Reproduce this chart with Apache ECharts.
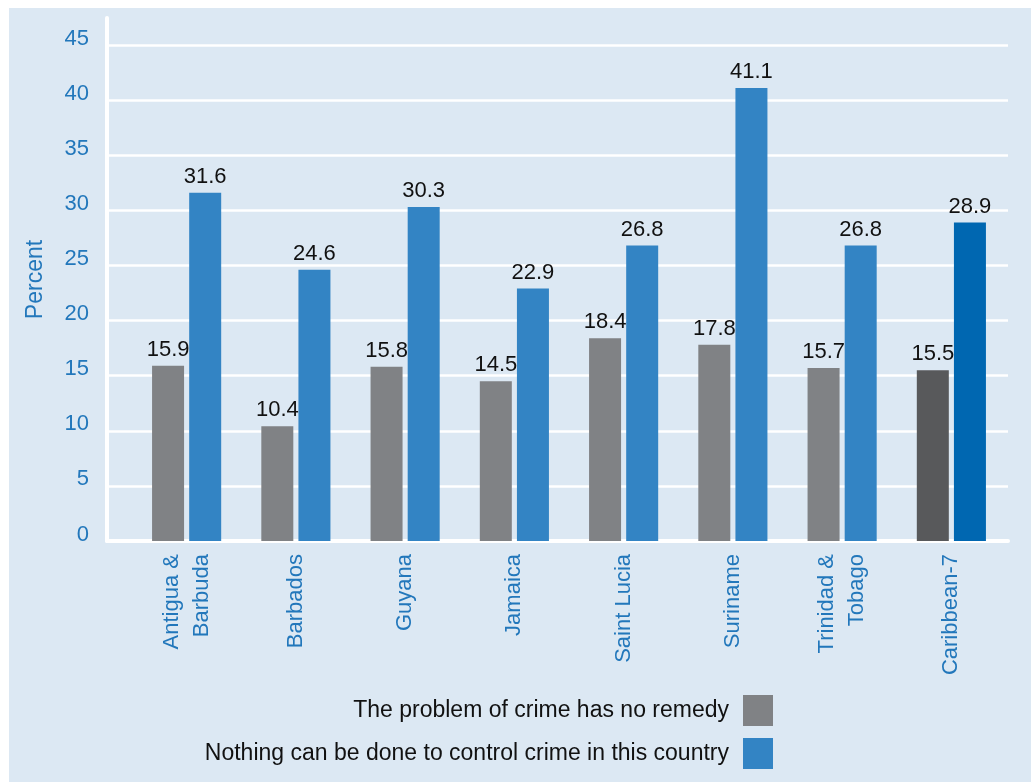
<!DOCTYPE html>
<html>
<head>
<meta charset="utf-8">
<script src="https://cdn.jsdelivr.net/npm/echarts@6/dist/echarts.min.js"></script>
<style>
  html, body { margin: 0; padding: 0; background: #fff; }
  #chart { width: 1031px; height: 782px; }
</style>
</head>
<body>
<div id="chart"></div>
<script>
// categories and values
const categories = ['Antigua &\nBarbuda', 'Barbados', 'Guyana', 'Jamaica', 'Saint Lucia', 'Suriname', 'Trinidad &\nTobago', 'Caribbean-7'];
const noRemedy = [15.9, 10.4, 15.8, 14.5, 18.4, 17.8, 15.7, 15.5];
const nothingDone = [31.6, 24.6, 30.3, 22.9, 26.8, 41.1, 26.8, 28.9];
const seriesNames = ['The problem of crime has no remedy', 'Nothing can be done to control crime in this country'];

const blueText = '#2277bb';
const greyBar = '#808285', blueBar = '#3384c4';
const greyDark = '#58595b', blueDark = '#0067b1';
const font = "'Liberation Sans', Arial, sans-serif";

// last category (Caribbean-7) gets darker colours
function withHighlight(values, dark) {
  return values.map(function (v, i) {
    if (i === values.length - 1) return { value: v, itemStyle: { color: dark } };
    return v;
  });
}

const chart = echarts.init(document.getElementById('chart'));

const option = {
  backgroundColor: '#fff',
  textStyle: { fontFamily: font },
  graphic: [{
    type: 'rect', z: -10, silent: true,
    shape: { x: 9, y: 8, width: 1022, height: 774 },
    style: { fill: '#dce8f3' }
  }],
  grid: [
    // background grid: white lines and y labels
    { left: 107, right: 23, top: 18, bottom: 241 },
    // bar grid
    { left: 132, right: 25, top: 18, bottom: 241 }
  ],
  xAxis: [
    {
      gridIndex: 0, type: 'value', min: 0, max: 1,
      axisLine: { show: true, lineStyle: { color: '#fff', width: 4 } },
      axisTick: { show: false }, axisLabel: { show: false }, splitLine: { show: false }
    },
    {
      gridIndex: 1, type: 'category', data: categories,
      axisLine: { show: false }, axisTick: { show: false },
      axisLabel: {
        rotate: 90, color: blueText, fontSize: 22, lineHeight: 30, margin: 13,
        fontFamily: font
      }
    }
  ],
  yAxis: [
    {
      gridIndex: 0, type: 'value', min: 0, max: 47.45, interval: 5,
      name: 'Percent', nameLocation: 'middle', nameGap: 60,
      nameTextStyle: { color: blueText, fontSize: 23, fontFamily: font },
      axisLine: { show: true, lineStyle: { color: '#fff', width: 4 } },
      axisTick: { show: false },
      splitLine: { show: true, showMaxLine: false, lineStyle: { color: '#fff', width: 2.5 } },
      axisLabel: {
        color: blueText, fontSize: 22, margin: 18, showMaxLabel: false,
        verticalAlign: 'bottom', lineHeight: 13, fontFamily: font
      }
    },
    { gridIndex: 1, type: 'value', min: 0, max: 47.45, show: false }
  ],
  legend: {
    data: seriesNames,
    orient: 'vertical', align: 'right',
    right: 253, top: 690,
    itemWidth: 30, itemHeight: 31, itemGap: 12,
    icon: 'rect',
    textStyle: { color: '#111', fontSize: 23, fontFamily: font, padding: [0, 9, 0, 0] }
  },
  series: [
    {
      name: seriesNames[0], type: 'bar', xAxisIndex: 1, yAxisIndex: 1,
      barWidth: 32, barGap: '16%',
      itemStyle: { color: greyBar },
      label: { show: true, position: 'top', distance: 5, color: '#111', fontSize: 22, fontFamily: font },
      data: withHighlight(noRemedy, greyDark)
    },
    {
      name: seriesNames[1], type: 'bar', xAxisIndex: 1, yAxisIndex: 1,
      barWidth: 32, barGap: '16%',
      itemStyle: { color: blueBar },
      label: { show: true, position: 'top', distance: 5, color: '#111', fontSize: 22, fontFamily: font },
      data: withHighlight(nothingDone, blueDark)
    }
  ]
};

chart.setOption(option);
</script>
</body>
</html>
